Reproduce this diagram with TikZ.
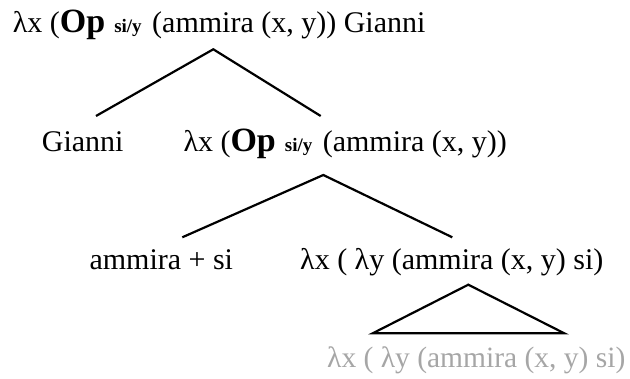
\documentclass[tikz,border=0pt]{standalone}
\usepackage{fontspec}
\setmainfont{Liberation Serif}
\definecolor{faded}{gray}{0.65}
\newcommand{\opsy}{{\fontsize{34}{38}\selectfont\textbf{Op}}\hspace{0.3em}{\fontsize{19}{22}\selectfont\textbf{si/y}}\hspace{0.35em}}
\tikzset{
  lab/.style={anchor=base west, inner sep=0pt, font=\fontsize{30}{34}\selectfont},
  branch/.style={line width=2.2pt}
}
\begin{document}
\begin{tikzpicture}[x=1pt, y=-1pt]
    \useasboundingbox (0,0) rectangle (630,379);

    % Etichette
    \node[lab] (root) at (12.7,33) {λx (\opsy(ammira (x, y)) Gianni};
    \node[lab] (subj) at (41.7,151.7) {Gianni};
    \node[lab] (vp) at (183.3,151.7) {λx (\opsy(ammira (x, y))};
    \node[lab] (verb) at (89.3,270) {ammira + si};
    \node[lab] (lam) at (300,270) {λx ( λy (ammira (x, y) si)};
    \node[lab, text=faded, font=\fontsize{29.5}{34}\selectfont] (leaf) at (327,368) {λx ( λy (ammira (x, y) si)};

    % Punti dei rami
    \coordinate (rootA) at (213.3,49.3);
    \coordinate (subjT) at (96,116);
    \coordinate (vpT) at (320.7,116);
    \coordinate (vpA) at (323.3,175);
    \coordinate (verbT) at (182.3,237.3);
    \coordinate (lamT) at (452.3,237.3);
    \coordinate (lamA) at (468.3,284.7);
    \coordinate (leafL) at (372.7,333.3);
    \coordinate (leafR) at (564.3,333.3);

    % Rami
    \draw[branch] (subjT) -- (rootA) -- (vpT);
    \draw[branch] (verbT) -- (vpA) -- (lamT);
    \draw[branch, line join=miter] (leafL) -- (lamA) -- (leafR) -- cycle;

\end{tikzpicture}
\end{document}
